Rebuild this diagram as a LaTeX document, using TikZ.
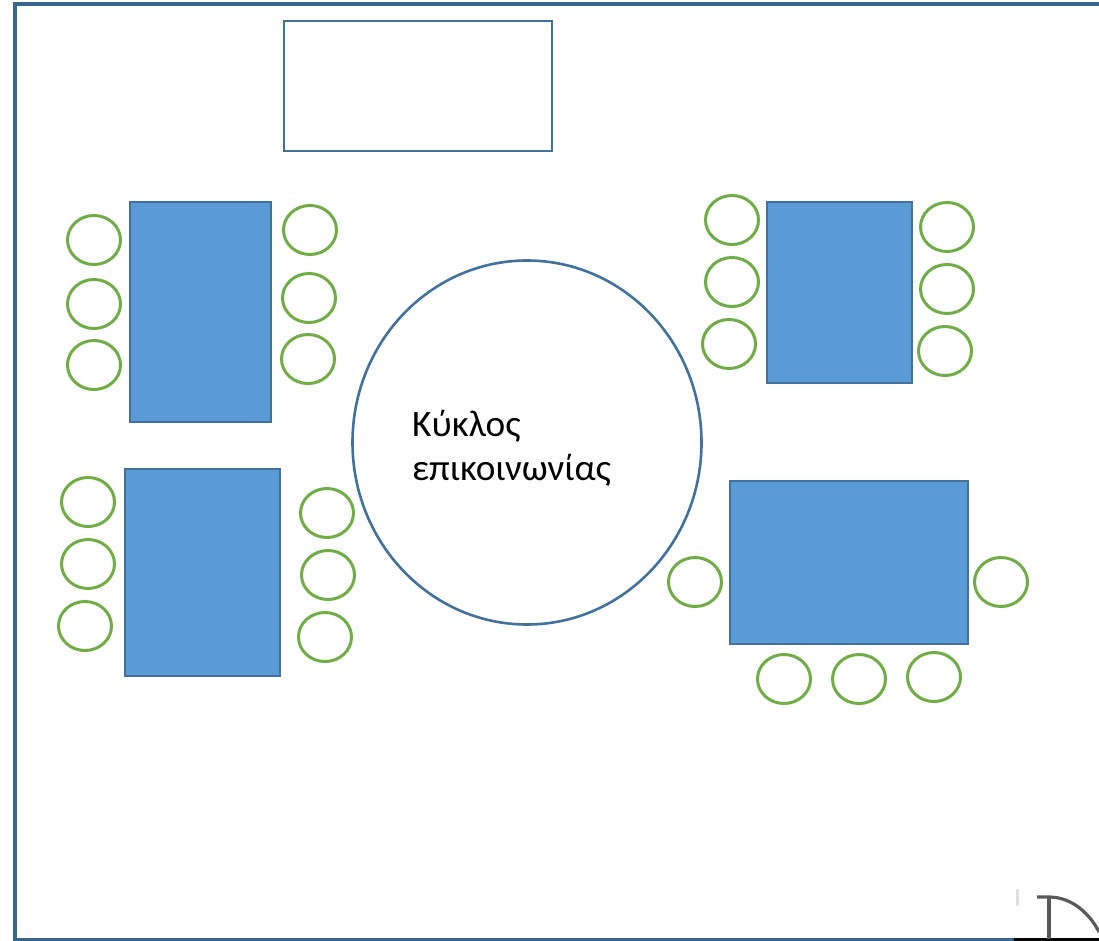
\documentclass[tikz,border=0pt]{standalone}
\usepackage{fontspec}
\setmainfont{Carlito}
\usetikzlibrary{shapes.geometric}
\definecolor{wallblue}{HTML}{41719C}
\definecolor{tableblue}{HTML}{5B9BD5}
\definecolor{seatgreen}{HTML}{70AD47}
\tikzset{
	wall/.style={line width=3.6pt, wallblue!90!black},
	tablebox/.style={draw=wallblue, line width=2.6pt, fill=tableblue, inner sep=0pt},
	seat/.style={draw=seatgreen, line width=3pt, fill=white, ellipse, inner sep=0pt, minimum width=53pt, minimum height=49pt},
	doorline/.style={line width=3.2pt, black!65},
	talktext/.style={anchor=base west, inner sep=0pt, font=\fontsize{37.3pt}{45pt}\selectfont},
}
\begin{document}
\begin{tikzpicture}[x=1pt, y=-1pt]
	\useasboundingbox (0, 0) rectangle (1099, 941);

	% room
	\coordinate (cornertl) at (15, 4);
	\coordinate (cornertr) at (1099, 4);
	\coordinate (cornerbl) at (15, 940);
	\coordinate (doorleft) at (1014, 940);
	\coordinate (doorright) at (1099, 940);
	\draw[wall] (cornertr) -- (cornertl) -- (cornerbl) -- (doorleft);
	\draw[line width=3.6pt, black] (doorleft) -- (doorright);

	% board
	\node[draw=wallblue, line width=2.6pt, minimum width=268pt, minimum height=130pt, inner sep=0pt] (board) at (418, 86) {};

	% tables
	\node[tablebox, minimum width=141pt, minimum height=220pt] (tabletl) at (200.5, 312) {};
	\node[tablebox, minimum width=145pt, minimum height=181pt] (tabletr) at (839.5, 292.5) {};
	\node[tablebox, minimum width=155pt, minimum height=207pt] (tablebl) at (202.5, 572.5) {};
	\node[tablebox, minimum width=238pt, minimum height=163pt] (tablebr) at (849, 562.5) {};

	% seats
	\foreach \name/\px/\py in {tla/94/240, tlb/94/304, tlc/94/365, tld/310/230, tle/309/298, tlf/308/359,
		tra/732/220, trb/732/282, trc/729/344, trd/947/227, tre/947/289, trf/945/351,
		bla/88/502, blb/88/564, blc/85/626, bld/327/513, ble/328/575, blf/325/637,
		bra/695/582, brb/1001/582, brc/784/679, brd/859/679, bre/934/677}
		\node[seat] (\name) at (\px, \py) {};

	% circle
	\node[draw=wallblue, line width=2.6pt, ellipse, inner sep=0pt, minimum width=349pt, minimum height=364pt] (talkcircle) at (527, 442.5) {};
	\node[talktext] (talklabela) at (412, 436) {Κύκλος};
	\node[talktext] (talklabelb) at (412, 480) {επικοινωνίας};

	% door
	\coordinate (doortop) at (1049, 897);
	\coordinate (doorfoot) at (1049, 939);
	\draw[doorline] (doortop) -- (doorfoot);
	\draw[doorline] (1037, 897) -- (doortop) .. controls (1072, 897) and (1090, 914) .. (1099, 932);
	\draw[line width=3pt, black!12] (1017, 889) -- (1017, 906);
\end{tikzpicture}
\end{document}
